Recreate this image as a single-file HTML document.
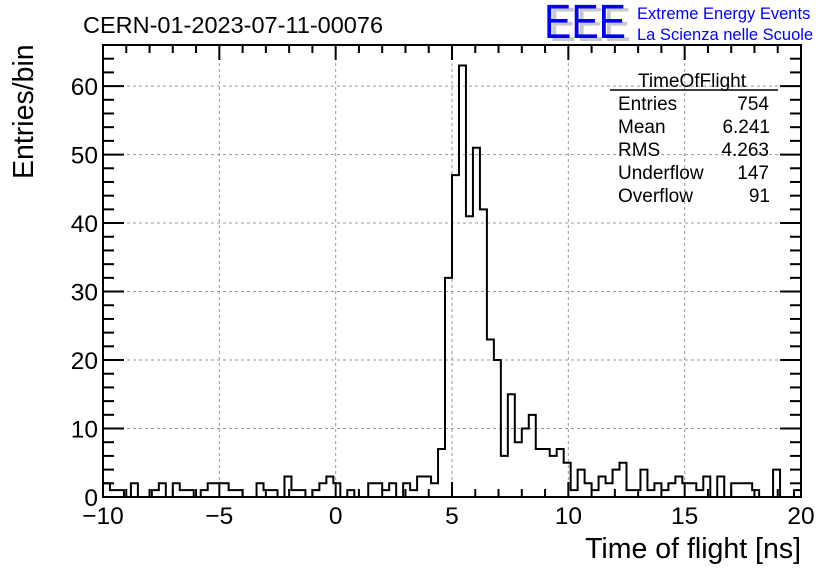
<!DOCTYPE html>
<html><head><meta charset="utf-8"><style>
body{margin:0;background:#fff}
svg{display:block;font-family:"Liberation Sans",sans-serif}
</style></head><body>
<svg id="chart" width="836" height="572" viewBox="0 0 836 572" xmlns="http://www.w3.org/2000/svg">
<rect x="0" y="0" width="836" height="572" fill="#fff"/>
<g id="grid"></g>
<g id="hist"></g>
<g id="axes"></g>
<text x="83" y="33" font-size="23.5">CERN-01-2023-07-11-00076</text>
<g>
<text x="549" y="41" font-size="48" fill="#c8c8c8" textLength="82" lengthAdjust="spacingAndGlyphs">EEE</text>
<text x="544" y="38" font-size="48" fill="#0000ff" textLength="82" lengthAdjust="spacingAndGlyphs">EEE</text>
<text x="637" y="19" font-size="16.5" fill="#0000ff">Extreme Energy Events</text>
<text x="637" y="40" font-size="16.5" fill="#0000ff">La Scienza nelle Scuole</text>
</g>
<g font-size="19">
<text x="692" y="87" text-anchor="middle">TimeOfFlight</text>
<line x1="610" y1="90" x2="778" y2="90" stroke="#000" stroke-width="1.5"/>
<text x="618" y="110">Entries</text><text x="769" y="110" text-anchor="end">754</text>
<text x="618" y="133">Mean</text><text x="770" y="133" text-anchor="end">6.241</text>
<text x="618" y="156">RMS</text><text x="769" y="156" text-anchor="end">4.263</text>
<text x="618" y="179">Underflow</text><text x="769" y="179" text-anchor="end">147</text>
<text x="618" y="202">Overflow</text><text x="770" y="202" text-anchor="end">91</text>
</g>
<text x="801" y="558" font-size="28.5" text-anchor="end">Time of flight [ns]</text>
<text transform="translate(33,179) rotate(-90)" font-size="28.5" text-anchor="start">Entries/bin</text>
</svg>
<script>
const xMin = -10, xMax = 20;
const yMin = 0, yMax = 66;
const binCounts = [2,1,1,0,2,0,0,1,2,0,2,1,1,0,1,2,2,2,1,1,0,0,2,1,
1,0,3,1,1,0,1,2,3,2,0,1,0,0,2,2,1,2,0,2,1,3,3,2,7,32,47,63,41,51,42,23,20,6,15,8,10,12,7,7,6,7,
5,1,4,2,1,3,2,4,5,1,1,4,1,2,1,2,3,2,2,1,3,0,3,0,2,2,2,1,0,0,4,0,0,1];
const xTicks = [-10,-5,0,5,10,15,20];
const xTickLabels = ["\u221210","\u22125","0","5","10","15","20"];
const yTicks = [0,10,20,30,40,50,60];
const yTickLabels = ["0","10","20","30","40","50","60"];

const L=103,R=801,T=45,B=497;
const sx=v=>L+(v-xMin)/(xMax-xMin)*(R-L);
const sy=v=>B-(v-yMin)/(yMax-yMin)*(B-T);
const NS="http://www.w3.org/2000/svg";
function mk(tag,attrs,parent){const e=document.createElementNS(NS,tag);for(const k in attrs)e.setAttribute(k,attrs[k]);parent.appendChild(e);return e;}
const grid=document.getElementById('grid'),axes=document.getElementById('axes'),hist=document.getElementById('hist');
xTicks.forEach(t=>{if(t>xMin&&t<xMax){const l=mk('line',{x1:sx(t),x2:sx(t),y1:T,y2:B,stroke:'#999','stroke-dasharray':'3,3','stroke-width':1},grid);

}});
yTicks.forEach(t=>{if(t>yMin){const l=mk('line',{x1:L,x2:R,y1:sy(t),y2:sy(t),stroke:'#999','stroke-dasharray':'3,3','stroke-width':1},grid);

}});
const n=binCounts.length,bw=(xMax-xMin)/n;
let d='M'+sx(xMin)+','+sy(0);
binCounts.forEach((c,i)=>{const x0=sx(xMin+i*bw),x1=sx(xMin+(i+1)*bw);d+=' L'+x0+','+sy(c)+' L'+x1+','+sy(c);});
d+=' L'+sx(xMax)+','+sy(0);
const hp=mk('path',{d:d,fill:'none',stroke:'#000','stroke-width':2},hist);


const fr=mk('rect',{x:L,y:T,width:R-L,height:B-T,fill:'none',stroke:'#000','stroke-width':2},axes);


for(let v=xMin;v<=xMax;v++){const major=(v%5===0);const len=major?15:8;
mk('line',{x1:sx(v),x2:sx(v),y1:B,y2:B-len,stroke:'#000','stroke-width':2},axes);
mk('line',{x1:sx(v),x2:sx(v),y1:T,y2:T+len,stroke:'#000','stroke-width':2},axes);}
xTicks.forEach((t,i)=>{const tx=mk('text',{x:sx(t),y:524,'font-size':24.5,'text-anchor':'middle'},axes);tx.textContent=xTickLabels[i];

});
for(let v=yMin;v<=yMax;v+=2){const major=(v%10===0);const len=major?21:11;
mk('line',{x1:L,x2:L+len,y1:sy(v),y2:sy(v),stroke:'#000','stroke-width':2},axes);
mk('line',{x1:R,x2:R-len,y1:sy(v),y2:sy(v),stroke:'#000','stroke-width':2},axes);}
yTicks.forEach((t,i)=>{const tx=mk('text',{x:98,y:sy(t)+9,'font-size':24.5,'text-anchor':'end'},axes);tx.textContent=yTickLabels[i];

});
</script>
</body></html>
